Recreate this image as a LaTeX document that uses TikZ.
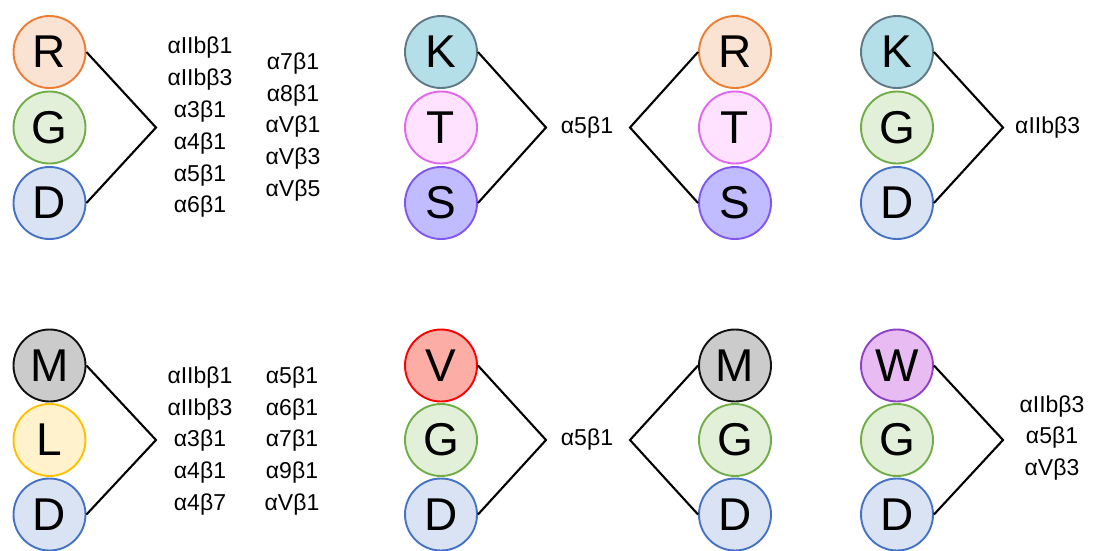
\documentclass[tikz,border=0pt]{standalone}
\usepackage{fontspec}
\setmainfont{Liberation Sans}
\definecolor{orD}{HTML}{ED7D31}\definecolor{orF}{HTML}{FBE3D4}
\definecolor{grD}{HTML}{70AD47}\definecolor{grF}{HTML}{E2F0D9}
\definecolor{blD}{HTML}{4472C4}\definecolor{blF}{HTML}{DAE3F3}
\definecolor{kD}{HTML}{5F7A86}\definecolor{kF}{HTML}{B4DEE8}
\definecolor{tD}{HTML}{E066F0}\definecolor{tF}{HTML}{FFE2FF}
\definecolor{sD}{HTML}{7F56F0}\definecolor{sF}{HTML}{C0BCFF}
\definecolor{mD}{HTML}{111111}\definecolor{mF}{HTML}{CCCBCB}
\definecolor{lD}{HTML}{FFC000}\definecolor{lF}{HTML}{FFF2CC}
\definecolor{vD}{HTML}{FF0000}\definecolor{vF}{HTML}{FBADA6}
\definecolor{wD}{HTML}{9042C4}\definecolor{wF}{HTML}{E8BCF2}
\tikzset{
  aa/.style={circle, minimum size=72pt, inner sep=0pt, line width=1.9pt,
    font=\fontsize{46}{46}\selectfont},
  cR/.style={aa, draw=orD, fill=orF},
  cG/.style={aa, draw=grD, fill=grF},
  cD/.style={aa, draw=blD, fill=blF},
  cK/.style={aa, draw=kD, fill=kF},
  cT/.style={aa, draw=tD, fill=tF},
  cS/.style={aa, draw=sD, fill=sF},
  cM/.style={aa, draw=mD, fill=mF},
  cL/.style={aa, draw=lD, fill=lF},
  cV/.style={aa, draw=vD, fill=vF},
  cW/.style={aa, draw=wD, fill=wF},
  lab/.style={align=center, inner sep=0pt, font=\fontsize{23}{31.8}\selectfont},
  conn/.style={line width=2.1pt, black, line join=miter},
}
\begin{document}
\begin{tikzpicture}[x=1pt, y=-1pt]
\useasboundingbox (0,0) rectangle (1094,550);
% ---------- top row ----------
\node[cR] (r1) at (49.5,52) {R};
\node[cG] (g1) at (49.5,127.5) {G};
\node[cD] (d1) at (49.5,203) {D};
\coordinate (a1) at (156,127.5);
\draw[conn] (r1.east) -- (a1) -- (d1.east);
\node[lab] (t1a) at (200,127.5) {αIIbβ1\\αIIbβ3\\α3β1\\α4β1\\α5β1\\α6β1};
\node[lab] (t1b) at (293,127) {α7β1\\α8β1\\αVβ1\\αVβ3\\αVβ5};

\node[cK] (k2) at (441,52) {K};
\node[cT] (t2) at (441,127.5) {T};
\node[cS] (s2) at (441,203) {S};
\coordinate (a2) at (546,127.5);
\draw[conn] (k2.east) -- (a2) -- (s2.east);
\node[lab] (l2) at (587,127.5) {α5β1};
\coordinate (b2) at (630,127.5);
\node[cR] (r3) at (735,52) {R};
\node[cT] (t3) at (735,127.5) {T};
\node[cS] (s3) at (735,203) {S};
\draw[conn] (r3.west) -- (b2) -- (s3.west);

\node[cK] (k4) at (897,52) {K};
\node[cG] (g4) at (897,127.5) {G};
\node[cD] (d4) at (897,203) {D};
\coordinate (a4) at (1003,127.5);
\draw[conn] (k4.east) -- (a4) -- (d4.east);
\node[lab, anchor=west] (l4) at (1015,127.5) {αIIbβ3};

% ---------- bottom row ----------
\node[cM] (m5) at (49.5,365.5) {M};
\node[cL] (l5) at (49.5,440) {L};
\node[cD] (d5) at (49.5,514.5) {D};
\coordinate (a5) at (156,440);
\draw[conn] (m5.east) -- (a5) -- (d5.east);
\node[lab] (t5a) at (200,441) {αIIbβ1\\αIIbβ3\\α3β1\\α4β1\\α4β7};
\node[lab] (t5b) at (292,441) {α5β1\\α6β1\\α7β1\\α9β1\\αVβ1};

\node[cV] (v6) at (441,365.5) {V};
\node[cG] (g6) at (441,440) {G};
\node[cD] (d6) at (441,514.5) {D};
\coordinate (a6) at (546,440);
\draw[conn] (v6.east) -- (a6) -- (d6.east);
\node[lab] (l6) at (587,440) {α5β1};
\coordinate (b6) at (630,440);
\node[cM] (m7) at (735,365.5) {M};
\node[cG] (g7) at (735,440) {G};
\node[cD] (d7) at (735,514.5) {D};
\draw[conn] (m7.west) -- (b6) -- (d7.west);

\node[cW] (w8) at (897,365.5) {W};
\node[cG] (g8) at (897,440) {G};
\node[cD] (d8) at (897,514.5) {D};
\coordinate (a8) at (1003,440);
\draw[conn] (w8.east) -- (a8) -- (d8.east);
\node[lab] (l8) at (1052,438) {αIIbβ3\\α5β1\\αVβ3};
\end{tikzpicture}
\end{document}
